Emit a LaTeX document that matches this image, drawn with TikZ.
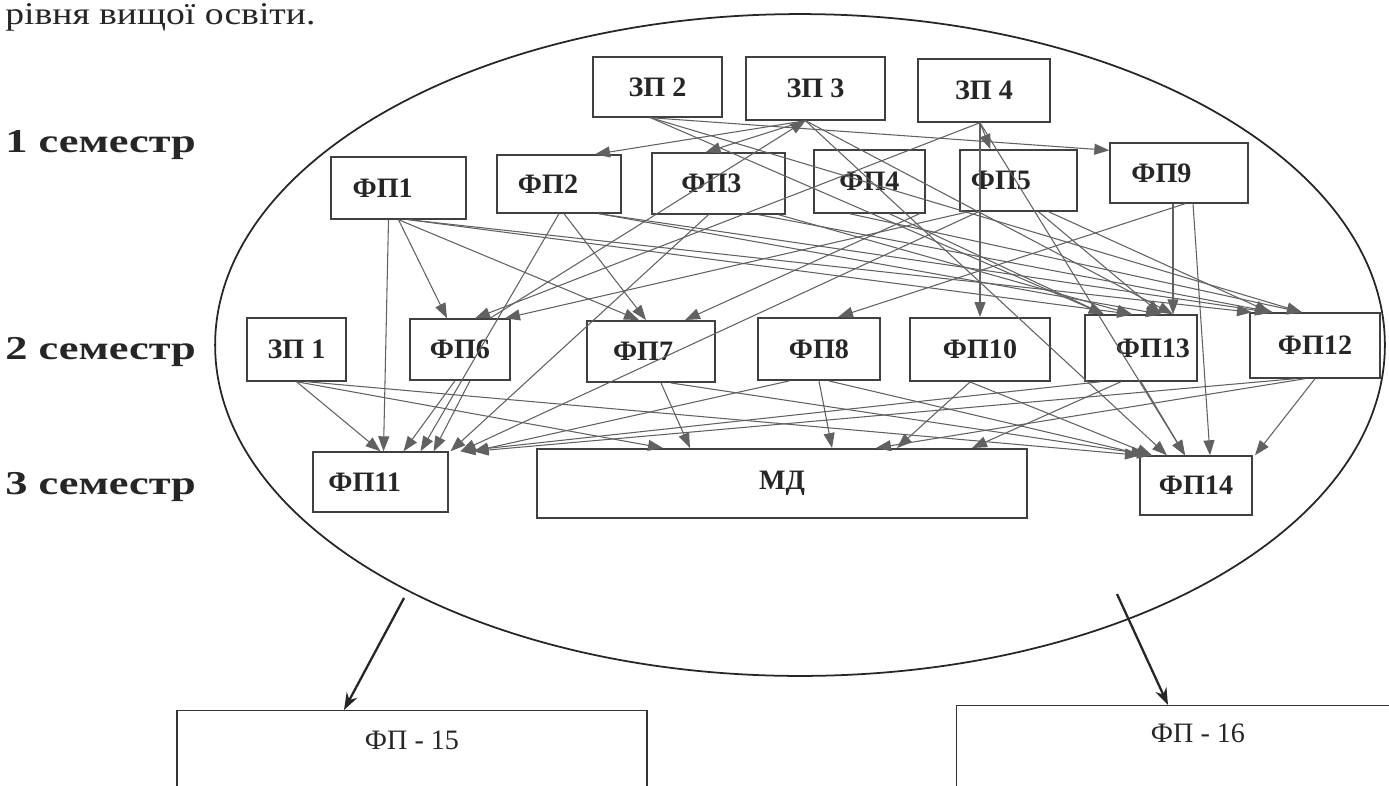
\documentclass[tikz,border=0pt]{standalone}
\usepackage{fontspec}
\setmainfont{Liberation Serif}
\newfontfamily\semfont[FakeStretch=1.33]{Liberation Serif}
\newfontfamily\headfont[FakeStretch=1.19]{Liberation Serif}
\usepackage{tikz}
\usetikzlibrary{shapes.geometric, arrows.meta, calc, positioning}

\tikzset{
    box/.style={draw=black!75, line width=0.8pt, inner sep=0pt, text=black!85,
                font=\bfseries\fontsize{16}{18}\selectfont},
    nudge/.style={execute at begin node={\hspace*{#1}}},
    bigbox/.style={draw=black!80, line width=0.8pt, inner xsep=0pt, inner ysep=0.2cm,
                   anchor=north, text=black!85, font=\fontsize{16}{18}\selectfont},
    link/.style={draw=black!62, line width=0.6pt, -{Triangle[length=3mm,width=2.2mm]}},
    exit/.style={draw=black!85, line width=1.3pt, -{Stealth[length=3.4mm,width=2.4mm]}},
    sem/.style={anchor=west, inner sep=0pt, text=black!85, font=\semfont\bfseries\fontsize{19}{22}\selectfont}
}

\begin{document}
\begin{tikzpicture}[x=0.02cm, y=-0.02cm]
    \clip (0,0) rectangle (1389,785);
    \fill[white] (0,0) rectangle (1389,785);

    % text above the scheme
    \node[anchor=base west, inner sep=0pt, text=black!85, font=\headfont\fontsize{18}{22}\selectfont] (head) at (5,24) {рівня вищої освіти.};

    % semesters
    \node[sem] (s1) at (5,145) {1 семестр};
    \node[sem] (s2) at (5,352) {2 семестр};
    \node[sem] (s3) at (5,487) {3 семестр};

    % the field of the programme
    \node[draw=black!85, line width=1pt, ellipse, inner sep=0pt,
          minimum width=23.4cm, minimum height=13.24cm] (field) at (800,345) {};

    % first row
    \node[box, minimum width=2.58cm, minimum height=1.2cm]  (zp2) at (657.5,87)   {ЗП 2};
    \node[box, minimum width=2.78cm, minimum height=1.26cm] (zp3) at (815.5,88.5) {ЗП 3};
    \node[box, minimum width=2.64cm, minimum height=1.26cm] (zp4) at (984,90.5)   {ЗП 4};

    \node[box, nudge=-18pt,   minimum width=2.7cm,  minimum height=1.24cm] (fp1) at (398.5,188)   {ФП1};
    \node[box, nudge=-12.5pt, minimum width=2.48cm, minimum height=1.16cm] (fp2) at (559,184)     {ФП2};
    \node[box, nudge=-8pt,    minimum width=2.66cm, minimum height=1.22cm] (fp3) at (718.5,183.5) {ФП3};
    \node[box, minimum width=2.22cm, minimum height=1.26cm] (fp4) at (869.5,181.5) {ФП4};
    \node[box, nudge=-20pt,   minimum width=2.34cm, minimum height=1.22cm] (fp5) at (1018.5,180.5) {ФП5};
    \node[box, nudge=-20pt,   minimum width=2.76cm, minimum height=1.2cm]  (fp9) at (1179,173)    {ФП9};

    % second row
    \node[box, minimum width=1.98cm, minimum height=1.26cm] (zp1)  at (296.5,349.5) {ЗП 1};
    \node[box, minimum width=2.0cm,  minimum height=1.22cm] (fp6)  at (460,349.5)   {ФП6};
    \node[box, nudge=-9pt, line width=1.1pt, minimum width=2.56cm, minimum height=1.22cm] (fp7)  at (651,351.5) {ФП7};
    \node[box, line width=1.1pt, minimum width=2.44cm, minimum height=1.24cm] (fp8)  at (819,349)   {ФП8};
    \node[box, line width=1.1pt, minimum width=2.8cm,  minimum height=1.26cm] (fp10) at (980,349.5) {ФП10};
    \node[box, nudge=13.6pt, minimum width=2.24cm, minimum height=1.32cm] (fp13) at (1141,348) {ФП13};
    \node[box, minimum width=2.6cm,  minimum height=1.3cm]  (fp12) at (1315,345.5)  {ФП12};

    % third row
    \node[box, nudge=-18pt, minimum width=2.7cm, minimum height=1.2cm] (fp11) at (380.5,482) {ФП11};
    \node[box, line width=1.1pt, minimum width=9.8cm, minimum height=1.38cm] (md) at (782,483.5) {МД};
    \node[box, minimum width=2.24cm, minimum height=1.18cm] (fp14) at (1196,485.5) {ФП14};

    % outside the field
    \node[bigbox, minimum width=9.4cm,  text height=0.58cm, text depth=1.22cm] (fp15) at (412,710)  {ФП - 15};
    \node[bigbox, minimum width=9.66cm, text height=0.54cm, text depth=1.3cm]  (fp16) at (1198,705) {ФП - 16};

    % links between the disciplines
    \foreach \a/\da/\b/\db in {
        zp2/-7/fp12/-13, zp2/-7/fp13/-37,
        zp3/-10/fp2/36, zp3/-10/fp3/-13, zp3/-10/fp13/32, zp3/-10/fp14/-29,
        zp4/-4/fp5/-28, zp4/-4/fp10/0, zp4/-4/fp6/15, zp4/-4/fp14/-11,
        fp1/0/fp6/-13, fp1/0/fp7/-12, fp1/10/fp13/-9, fp1/10/fp12/-63,
        fp2/5/fp7/-5, fp2/40/fp12/-45, fp2/40/fp13/20,
        fp3/40/fp12/-42, fp3/60/fp13/-9,
        fp4/50/fp7/34, fp4/-20/fp12/-13, fp4/20/fp13/-37,
        fp5/-50/fp6/45, fp5/20/fp13/20, fp5/30/fp12/-45,
        fp9/6/fp8/19, fp9/-6/fp13/32, fp9/14/fp14/14}
        \draw[link] ($(\a.south)+(\da,0)$) -- ($(\b.north)+(\db,0)$);

    \foreach \a/\da/\b/\db in {
        fp1/-10/fp11/3, zp1/0/fp11/0, fp6/-5/fp11/23, fp2/0/fp11/40,
        fp6/10/fp11/53, fp3/-10/fp11/70, fp5/-40/fp11/80, fp12/-20/fp11/93,
        fp13/-40/fp11/80, fp8/-30/fp11/93,
        zp1/0/md/-119, fp7/10/md/-92, fp8/0/md/50, fp12/-10/md/94,
        fp10/-10/md/115, fp13/-20/md/190,
        zp1/10/fp14/-56, fp7/20/fp14/-44, fp8/10/fp14/-50, fp10/-10/fp14/-44,
        fp13/0/fp14/-11, fp12/0/fp14/59}
        \draw[link] ($(\a.south)+(\da,0)$) -- ($(\b.north)+(\db,0)$);

    \draw[link] ($(zp2.south)+(-7,0)$) -- ($(fp9.north west)+(0,8)$);
    \draw[link] ($(fp6.north)+(30,0)$) -- ($(zp3.south)+(-10,0)$);

    % results of the field
    \coordinate (out15) at (404,598);
    \coordinate (out16) at (1117,594);
    \draw[exit] (out15) -- ($(fp15.north)+(-68,0)$);
    \draw[exit] (out16) -- ($(fp16.north)+(-30,0)$);
\end{tikzpicture}
\end{document}
